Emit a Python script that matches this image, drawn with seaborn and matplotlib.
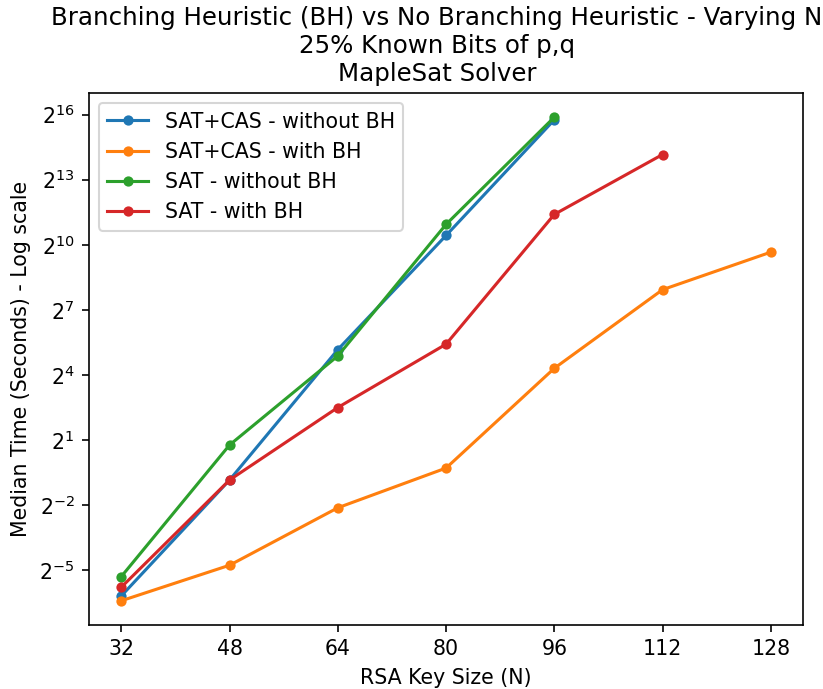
import numpy as np
import pandas as pd
import matplotlib
matplotlib.use("Agg")
import matplotlib.pyplot as plt
import matplotlib.ticker as mticker
import seaborn as sns

# RSA key sizes (bits)
key_sizes = [32, 48, 64, 80, 96, 112, 128]

# Median solve times in seconds
sat_cas_without_bh = [0.0138, 0.559, 36.0, 1379, 55500]
sat_cas_with_bh = [0.0118, 0.0367, 0.230, 0.818, 19.8, 244, 809]
sat_without_bh = [0.0256, 1.71, 29.4, 1965, 60300]
sat_with_bh = [0.0182, 0.559, 5.66, 42.8, 2702, 18300]

series = [
    ("SAT+CAS - without BH", sat_cas_without_bh, "#1f77b4"),
    ("SAT+CAS - with BH", sat_cas_with_bh, "#ff7f0e"),
    ("SAT - without BH", sat_without_bh, "#2ca02c"),
    ("SAT - with BH", sat_with_bh, "#d62728"),
]

y_exponents = [-5, -2, 1, 4, 7, 10, 13, 16]

DPI = 148
fig, ax = plt.subplots(figsize=(823 / DPI, 689 / DPI), dpi=DPI)
fig.subplots_adjust(left=0.108, right=0.976, top=0.865, bottom=0.093)

for name, values, color in series:
    df = pd.DataFrame({"N": key_sizes[:len(values)], "time": values})
    sns.lineplot(data=df, x="N", y="time", ax=ax, color=color, marker="o",
                 markersize=5, markeredgewidth=0, linewidth=1.5, label=name)

ax.set_yscale("log", base=2)
ax.set_yticks([2.0 ** e for e in y_exponents])
ax.yaxis.set_minor_locator(mticker.NullLocator())
ax.set_xticks(key_sizes)

ax.set_xlabel("RSA Key Size (N)")
ax.set_ylabel("Median Time (Seconds) - Log scale")
ax.set_title("Branching Heuristic (BH) vs No Branching Heuristic - Varying N\n"
             "25% Known Bits of p,q\nMapleSat Solver", fontsize=11.9, x=0.487)
ax.legend(loc="upper left")

fig.savefig("out.png", dpi=DPI)
